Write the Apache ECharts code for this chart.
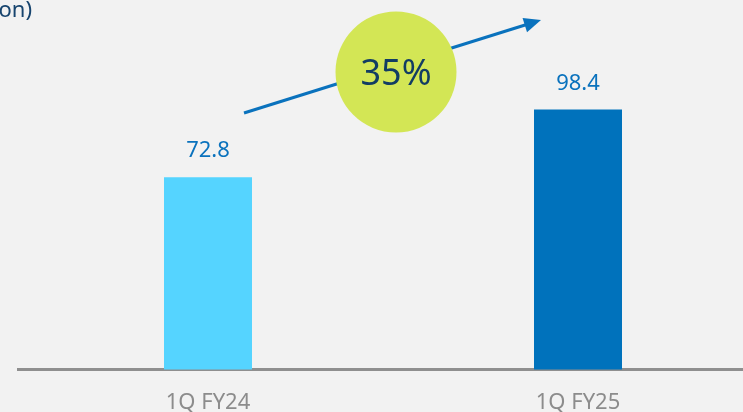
<!DOCTYPE html>
<html>
<head>
    <meta charset="utf-8">
    <title>ECharts</title>
    <script src="https://cdn.jsdelivr.net/npm/echarts@6/dist/echarts.min.js"></script>
    <style>
        html, body { margin: 0; padding: 0; background: #f2f2f2; }
    </style>
</head>
<body>
<div id="main" style="width: 743px;height:412px;"></div>
<script type="text/javascript">
    // data
    var categories = ['1Q FY24', '1Q FY25'];
    var values = [72.8, 98.4];
    var barColors = ['#55d4ff', '#0072bc'];
    var growthLabel = '35%';
    var unitLabel = '(US$ billion)';

    var myChart = echarts.init(document.getElementById('main'));

    // arrow from lower left to upper right, behind the growth bubble
    var arrowStart = [244, 113];
    var arrowEnd = [541, 20];
    var dx = arrowEnd[0] - arrowStart[0], dy = arrowEnd[1] - arrowStart[1];
    var len = Math.sqrt(dx * dx + dy * dy);
    var ux = dx / len, uy = dy / len;
    var headLen = 17, headHalf = 7.5;
    var baseX = arrowEnd[0] - ux * headLen, baseY = arrowEnd[1] - uy * headLen;
    var headPoints = [
        arrowEnd,
        [baseX - uy * headHalf, baseY + ux * headHalf],
        [baseX + uy * headHalf, baseY - ux * headHalf]
    ];

    var option = {
        backgroundColor: '#f2f2f2',
        animation: false,
        grid: {
            left: 23,
            width: 740,
            top: 52.5,
            bottom: 42.5,
            outerBoundsMode: 'none'
        },
        xAxis: {
            type: 'category',
            data: categories,
            axisLine: {
                lineStyle: { color: '#8f8f8f', width: 3 }
            },
            axisTick: { show: false },
            axisLabel: {
                color: '#8c8c8c',
                fontSize: 22,
                fontFamily: 'Noto Sans',
                margin: 22
            }
        },
        yAxis: {
            type: 'value',
            min: 0,
            max: 120,
            show: false,
            splitLine: { show: false }
        },
        series: [{
            type: 'bar',
            barWidth: 88,
            data: values.map(function (v, i) {
                return { value: v, itemStyle: { color: barColors[i] } };
            }),
            label: {
                show: true,
                position: 'top',
                distance: 15,
                color: '#0a72bd',
                fontSize: 22,
                fontFamily: 'Noto Sans'
            }
        }],
        graphic: [
            {
                // axis line continues a little to the left of the grid
                type: 'rect',
                shape: { x: 17, y: 368, width: 8, height: 3 },
                style: { fill: '#8f8f8f' },
                z: 10
            },
            {
                type: 'text',
                style: {
                    text: unitLabel,
                    x: 32,
                    y: 11,
                    align: 'right',
                    verticalAlign: 'middle',
                    fill: '#17446e',
                    font: '22px "Noto Sans"'
                },
                z: 10
            },
            {
                type: 'line',
                shape: {
                    x1: arrowStart[0], y1: arrowStart[1],
                    x2: baseX + ux * 2, y2: baseY + uy * 2
                },
                style: { stroke: '#0a72bd', lineWidth: 3 },
                z: 10
            },
            {
                type: 'polygon',
                shape: { points: headPoints },
                style: { fill: '#0a72bd' },
                z: 10
            },
            {
                type: 'circle',
                shape: { cx: 396, cy: 72, r: 60.5 },
                style: { fill: '#d3e655' },
                z: 20
            },
            {
                type: 'text',
                style: {
                    text: growthLabel,
                    x: 396,
                    y: 75,
                    align: 'center',
                    verticalAlign: 'middle',
                    fill: '#123d63',
                    font: '36px "Noto Sans"'
                },
                z: 30
            }
        ]
    };

    myChart.setOption(option);
</script>
</body>
</html>
